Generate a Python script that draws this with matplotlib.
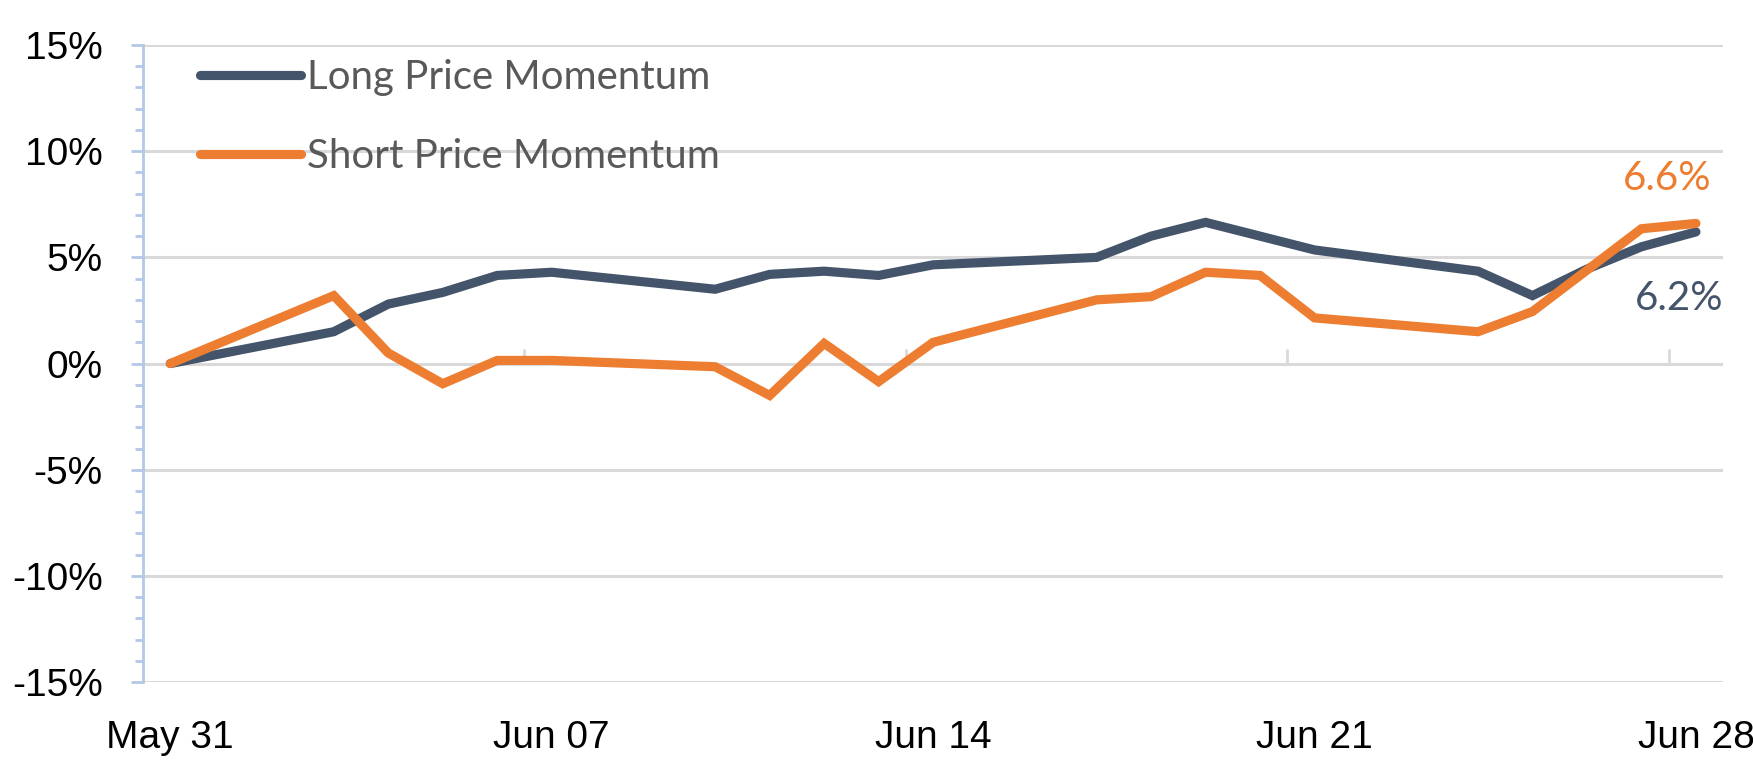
import pandas as pd
import matplotlib
matplotlib.use("Agg")
import matplotlib.pyplot as plt
import matplotlib.dates as mdates
from matplotlib.ticker import MultipleLocator, FuncFormatter, NullFormatter

# trading days, June 2019
DATES = ["2019-05-31", "2019-06-03", "2019-06-04", "2019-06-05", "2019-06-06",
         "2019-06-07", "2019-06-10", "2019-06-11", "2019-06-12", "2019-06-13",
         "2019-06-14", "2019-06-17", "2019-06-18", "2019-06-19", "2019-06-20",
         "2019-06-21", "2019-06-24", "2019-06-25", "2019-06-26", "2019-06-27",
         "2019-06-28"]
LONG = [0.0, 1.5, 2.8, 3.35, 4.15, 4.3, 3.5, 4.2, 4.35, 4.15,
        4.65, 5.0, 6.0, 6.65, 6.0, 5.35, 4.35, 3.2, 4.45, 5.5, 6.2]
SHORT = [0.0, 3.2, 0.5, -0.95, 0.15, 0.15, -0.15, -1.5, 0.95, -0.85,
         1.0, 3.0, 3.15, 4.3, 4.15, 2.15, 1.5, 2.45, 4.4, 6.35, 6.6]
TICK_DATES = ["2019-05-31", "2019-06-07", "2019-06-14", "2019-06-21", "2019-06-28"]
TICK_LABELS = ["May 31", "Jun 07", "Jun 14", "Jun 21", "Jun 28"]

LONG_COLOR = "#44546A"
SHORT_COLOR = "#ED7D31"
AXIS_FONT = ["Liberation Sans", "DejaVu Sans"]
BODY = ["Lato", "DejaVu Sans"]

x = mdates.date2num(pd.to_datetime(DATES))
ticks = mdates.date2num(pd.to_datetime(TICK_DATES))

fig = plt.figure(figsize=(17.53, 7.63), dpi=100)
ax = fig.add_axes([0.0816, 0.106, 0.9014, 0.835])

ax.plot(x, LONG, color=LONG_COLOR, lw=6.6, solid_joinstyle="miter",
        solid_capstyle="round", label="Long Price Momentum", zorder=3)
ax.plot(x, SHORT, color=SHORT_COLOR, lw=6.6, solid_joinstyle="miter",
        solid_capstyle="round", label="Short Price Momentum", zorder=4)

ax.set_xlim(x[0] - 0.5, x[-1] + 0.5)
ax.set_ylim(-15, 15)

# y axis
ax.yaxis.set_major_locator(MultipleLocator(5))
ax.yaxis.set_minor_locator(MultipleLocator(1))
ax.yaxis.set_major_formatter(FuncFormatter(lambda v, p: "%d%%" % round(v)))
ax.tick_params(axis="y", which="major", length=9, width=2, color="#B4C7E7",
               pad=20, labelsize=28)
ax.tick_params(axis="y", which="minor", length=6, width=2, color="#B4C7E7")
for lab in ax.get_yticklabels():
    lab.set_family(AXIS_FONT)
ax.grid(axis="y", color="#D9D9D9", lw=2.2, zorder=0)
ax.set_axisbelow(True)

for s in ["top", "right", "bottom"]:
    ax.spines[s].set_visible(False)
ax.spines["left"].set_color("#B4C7E7")
ax.spines["left"].set_linewidth(2)

# x labels at the bottom, tick marks between days on the zero line
ax.set_xticks(ticks)
ax.set_xticklabels(TICK_LABELS, family=AXIS_FONT)
ax.tick_params(axis="x", length=0, pad=27, labelsize=28)

zero = ax.secondary_xaxis(0.5)
zero.set_xticks(ticks[1:] - 0.5)
zero.xaxis.set_major_formatter(NullFormatter())
zero.tick_params(axis="x", length=11, width=2, color="#D9D9D9")
zero.spines["bottom"].set_visible(False)
zero.spines["top"].set_visible(False)

# end labels
ax.text(x[-1] - 0.53, SHORT[-1] + 2.1, "6.6%", color=SHORT_COLOR, fontsize=29,
        family=BODY, ha="center", va="center")
ax.text(x[-1] - 0.3, LONG[-1] - 3.15, "6.2%", color=LONG_COLOR, fontsize=29,
        family=BODY, ha="center", va="center")

leg = ax.legend(loc="upper left", frameon=False,
                handlelength=2.5, handletextpad=0.15, labelspacing=1.05,
                bbox_to_anchor=(0.013, 1.035), prop={"family": BODY, "size": 29})
for t in leg.get_texts():
    t.set_color("#595959")

fig.savefig("out.png", dpi=100)
